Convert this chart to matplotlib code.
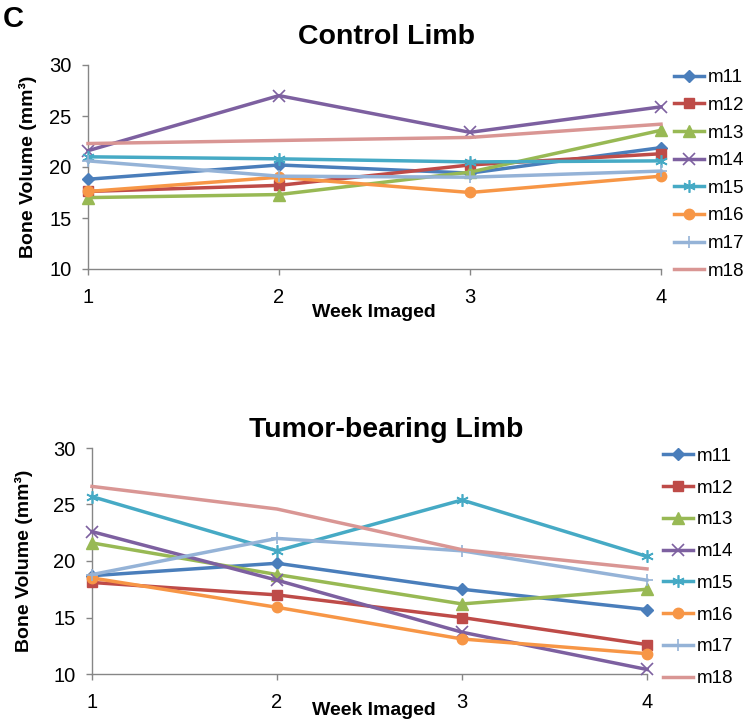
import numpy as np
import matplotlib
matplotlib.use('Agg')
import matplotlib.pyplot as plt

plt.rcParams['font.family'] = ['Liberation Sans', 'DejaVu Sans']

weeks = [1, 2, 3, 4]
mice = ['m11', 'm12', 'm13', 'm14', 'm15', 'm16', 'm17', 'm18']

# bone volume (mm^3), control limb
control_m11 = [18.8, 20.2, 19.4, 21.9]
control_m12 = [17.6, 18.2, 20.2, 21.3]
control_m13 = [17.0, 17.3, 19.5, 23.6]
control_m14 = [21.6, 27.0, 23.4, 25.9]
control_m15 = [21.0, 20.8, 20.5, 20.6]
control_m16 = [17.6, 19.0, 17.5, 19.1]
control_m17 = [20.6, 19.1, 19.0, 19.6]
control_m18 = [22.3, 22.6, 22.9, 24.2]

# bone volume (mm^3), tumor-bearing limb
tumor_m11 = [18.7, 19.8, 17.5, 15.7]
tumor_m12 = [18.1, 17.0, 15.0, 12.6]
tumor_m13 = [21.6, 18.8, 16.2, 17.5]
tumor_m14 = [22.6, 18.3, 13.7, 10.4]
tumor_m15 = [25.7, 20.9, 25.4, 20.4]
tumor_m16 = [18.5, 15.9, 13.1, 11.8]
tumor_m17 = [18.8, 22.0, 20.9, 18.3]
tumor_m18 = [26.6, 24.6, 21.0, 19.3]

control = [control_m11, control_m12, control_m13, control_m14,
           control_m15, control_m16, control_m17, control_m18]
tumor = [tumor_m11, tumor_m12, tumor_m13, tumor_m14,
         tumor_m15, tumor_m16, tumor_m17, tumor_m18]

colors = ['#4A7EBB', '#BE4B48', '#98B954', '#7D60A0',
          '#46AAC5', '#F79646', '#95B3D7', '#D99694']
markers = ['D', 's', '^', 'x', (6, 2, 0), 'o', '+', None]
msizes = [6.5, 7, 8, 8, 9, 7.5, 9, 0]

fig = plt.figure(figsize=(7.49, 7.27), dpi=100)

W, H = 749.0, 727.0
# axes boxes in pixels: left, right, top, bottom
boxes = [(88, 661, 65, 269), (92, 647, 448, 674)]
datasets = [control, tumor]
titles = ['Control Limb', 'Tumor-bearing Limb']
title_y = [37, 430]
leg_pos = [(674, 174.5, 0.56), (663, 567.5, 0.78)]
xlab_y = [304, 702]
ylab_x = [37, 33]

gray = '#868686'

for k in range(2):
    l, r, t, b = boxes[k]
    ax = fig.add_axes([l / W, 1 - b / H, (r - l) / W, (b - t) / H])
    for i, vals in enumerate(datasets[k]):
        thin = markers[i] in ('x', '+', (6, 2, 0))
        ax.plot(weeks, vals, color=colors[i], lw=2.5, marker=markers[i],
                markersize=msizes[i], markeredgewidth=1.2 if thin else 1,
                markerfacecolor=colors[i], markeredgecolor=colors[i],
                label=mice[i], clip_on=False, zorder=3)
    ax.set_xlim(1, 4)
    ax.set_ylim(10, 30)
    ax.set_xticks(weeks)
    ax.set_yticks([10, 15, 20, 25, 30])
    for s in ['top', 'right']:
        ax.spines[s].set_visible(False)
    for s in ['left', 'bottom']:
        ax.spines[s].set_color(gray)
        ax.spines[s].set_linewidth(1)
    ax.tick_params(axis='both', colors=gray, labelcolor='black', labelsize=14.5,
                   length=4, width=1, direction='out')
    ax.tick_params(axis='x', pad=10)
    ax.tick_params(axis='y', pad=8)

    ax.set_xlabel('Week Imaged', fontsize=14, fontweight='bold')
    ax.xaxis.set_label_coords((374 - l) / (r - l), -(xlab_y[k] - b) / (b - t))
    ax.set_ylabel('Bone Volume (mm³)', fontsize=14, fontweight='bold')
    ax.yaxis.set_label_coords((ylab_x[k] - l) / (r - l), 0.5)

    fig.text(386 / W, 1 - title_y[k] / H, titles[k], fontsize=20.5,
             fontweight='bold', ha='center', va='center')

    lx, ly, lsp = leg_pos[k]
    ax.legend(loc='center left', bbox_to_anchor=(lx / W, 1 - ly / H),
              bbox_transform=fig.transFigure, frameon=False, fontsize=13.5,
              handlelength=1.6, handletextpad=0.2, labelspacing=lsp,
              borderpad=0, borderaxespad=0, numpoints=1)

fig.text(3 / W, 1 - 19 / H, 'C', fontsize=21, fontweight='bold',
         ha='left', va='center')

plt.savefig('out.png', dpi=100)
